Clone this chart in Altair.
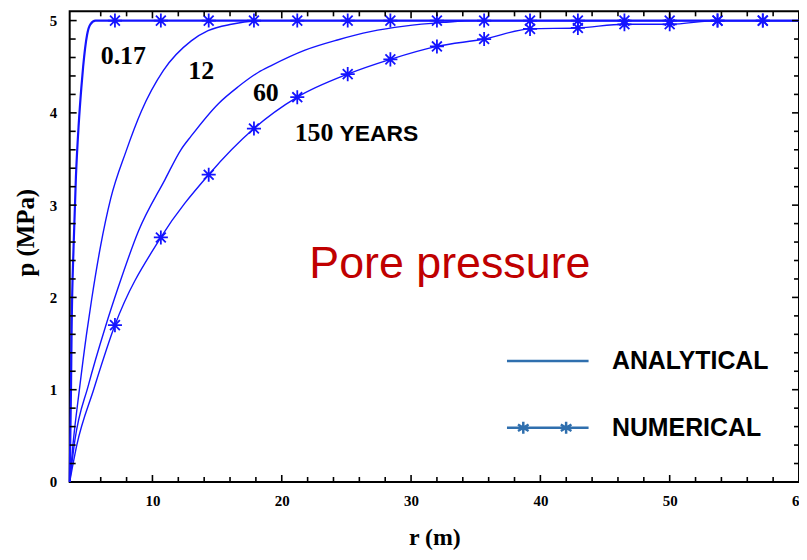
import altair as alt
import pandas as pd

# ---------------- data ----------------
R_DOMAIN = [3.6, 60.0]
P_DOMAIN = [0.0, 5.1]

# analytical curves: r (m) and p (MPa) for each time (years)
A017_R = [3.6, 3.65, 3.7, 3.75, 3.9, 4.08, 4.3, 4.5, 4.64, 4.95, 5.2, 5.6, 60.0]
A017_P = [0.0, 0.5, 1.0, 1.65, 2.55, 3.3, 3.88, 4.27, 4.5, 4.85, 4.96, 5.0, 5.0]

A12_R = [3.6, 3.85, 4.35, 4.9, 5.3, 5.98, 6.77, 7.95, 9.15, 10.85, 13.0, 14.3, 16.1, 18.5, 60.0]
A12_P = [0.0, 0.4, 1.0, 1.6, 1.98, 2.55, 3.07, 3.58, 4.02, 4.46, 4.78, 4.89, 4.96, 5.0, 5.0]

A60_R = [3.6, 4.0, 5.05, 6.36, 7.38, 8.92, 10.98, 12.2, 13.0, 15.1, 16.6, 18.2, 19.15,
         21.8, 24.3, 26.85, 29.5, 32.5, 35.0, 60.0]
A60_P = [0.0, 0.45, 1.05, 1.68, 2.12, 2.72, 3.28, 3.6, 3.75, 4.1, 4.28, 4.44, 4.51,
         4.68, 4.79, 4.88, 4.94, 4.98, 5.0, 5.0]

A150_R = [3.6, 4.15, 5.45, 7.1, 10.65, 14.35, 17.85, 21.2, 25.1, 28.4, 32.0,
          35.65, 39.2, 42.9, 46.5, 50.0, 53.7, 60.0]
A150_P = [0.0, 0.4, 1.0, 1.70, 2.65, 3.33, 3.83, 4.17, 4.42, 4.58, 4.72,
          4.80, 4.91, 4.92, 4.96, 4.96, 5.0, 5.0]

# numerical results (stars)
NUM_R = [7.1, 10.65, 14.35, 17.85, 21.2, 25.1, 28.4, 32.0, 35.65, 39.2, 42.9, 46.5, 50.0, 53.7, 57.2]
N017_P = [5.0, 5.0, 5.0, 5.0, 5.0, 5.0, 5.0, 5.0, 5.0, 5.0, 5.0, 5.0, 5.0, 5.0, 5.0]
N150_P = [1.70, 2.65, 3.33, 3.83, 4.17, 4.42, 4.58, 4.72, 4.80, 4.91, 4.92, 4.96, 4.96, 5.0, 5.0]

# curve labels
LABEL_TEXT = ["0.17", "12", "60", "150"]
LABEL_R = [6.0, 12.77, 17.77, 21.0]
LABEL_P = [4.53, 4.37, 4.13, 3.70]
UNIT_TEXT = ["YEARS"]
UNIT_R = [24.46]
UNIT_P = [3.70]

NOTE_TEXT = ["Pore pressure"]
NOTE_R = [33.0]
NOTE_P = [2.21]

METHODS = ["ANALYTICAL", "NUMERICAL"]

# axis ticks
X_LABELS = [10, 20, 30, 40, 50, 60]
X_MAJOR = [10, 20, 30, 40, 50]
X_MINOR = [6, 8, 12, 14, 16, 18, 22, 24, 26, 28, 32, 34, 36, 38, 42, 44, 46, 48, 52, 54, 56, 58]
Y_LABELS = [0, 1, 2, 3, 4, 5]
Y_MAJOR = [1, 2, 3, 4, 5]
Y_MINOR = [0.2, 0.4, 0.6, 0.8, 1.2, 1.4, 1.6, 1.8, 2.2, 2.4, 2.6, 2.8,
           3.2, 3.4, 3.6, 3.8, 4.2, 4.4, 4.6, 4.8]

# ---------------- styles ----------------
BLUE = "#1414ff"
LEG_BLUE = "#2f6fae"
SERIF = "Liberation Serif"
SANS = "Liberation Sans"
W, H = 733, 473

STAR = "M0,-1L0,1M-1,0L1,0M-0.7,-0.7L0.7,0.7M-0.7,0.7L0.7,-0.7"
LEG_LINE = "M-1,0L1,0"
LEG_STARS = ("M-1,0L1,0"
             "M-0.6,-0.15L-0.6,0.15M-0.73,-0.08L-0.47,0.08M-0.73,0.08L-0.47,-0.08"
             "M0.45,-0.15L0.45,0.15M0.32,-0.08L0.58,0.08M0.32,0.08L0.58,-0.08")

xs = alt.Scale(domain=R_DOMAIN, nice=False, zero=False)
ys = alt.Scale(domain=P_DOMAIN, nice=False, zero=False)

x_axis = alt.Axis(values=X_LABELS, format="d", ticks=False, domain=False, grid=False,
                  labelFont=SERIF, labelFontWeight="bold", labelFontSize=15,
                  labelColor="black", labelPadding=12, labelFlush=False,
                  labelOverlap=False,
                  title="r (m)", titleFont=SERIF, titleFontWeight="bold",
                  titleFontSize=24, titleColor="black", titleY=63,
                  titleBaseline="alphabetic")
y_axis = alt.Axis(values=Y_LABELS, format="d", ticks=False, domain=False, grid=False,
                  labelFont=SERIF, labelFontWeight="bold", labelFontSize=15,
                  labelColor="black", labelPadding=13, labelFlush=False,
                  labelOverlap=False,
                  title="p (MPa)", titleFont=SERIF, titleFontWeight="bold",
                  titleFontSize=25, titleColor="black", titleAngle=270,
                  titleX=-36, titleY=222, titleAlign="center",
                  titleBaseline="alphabetic")


def X(field):
    return alt.X(field, scale=xs, axis=x_axis, title="r (m)")


def Y(field):
    return alt.Y(field, scale=ys, axis=y_axis, title="p (MPa)")


def curve_df(name, r, p):
    return pd.DataFrame({"time": name, "r": r, "p": p})


analytic_thin = pd.concat([curve_df("12", A12_R, A12_P),
                           curve_df("60", A60_R, A60_P),
                           curve_df("150", A150_R, A150_P)])
analytic_thick = curve_df("0.17", A017_R, A017_P)
numerical = pd.concat([curve_df("0.17", NUM_R, N017_P),
                       curve_df("150", NUM_R, N150_P)])

thin = alt.Chart(analytic_thin).mark_line(color=BLUE, strokeWidth=1.4,
                                          interpolate="monotone").encode(
    x=X("r:Q"), y=Y("p:Q"), detail="time:N", order="r:Q",
)
thick = alt.Chart(analytic_thick).mark_line(color=BLUE, strokeWidth=2.2,
                                            interpolate="monotone").encode(
    x=X("r:Q"), y=Y("p:Q"), order="r:Q",
)
stars = alt.Chart(numerical).mark_point(
    shape=STAR, filled=False, size=200, strokeWidth=1.8, color=BLUE, opacity=1
).encode(x=X("r:Q"), y=Y("p:Q"))

labels = alt.Chart(pd.DataFrame({"t": LABEL_TEXT, "r": LABEL_R, "p": LABEL_P})).mark_text(
    font=SERIF, fontWeight="bold", fontSize=26, align="left", baseline="alphabetic", color="black"
).encode(x=X("r:Q"), y=Y("p:Q"), text="t:N")

units = alt.Chart(pd.DataFrame({"t": UNIT_TEXT, "r": UNIT_R, "p": UNIT_P})).mark_text(
    font=SANS, fontWeight="bold", fontSize=23, align="left", baseline="alphabetic", color="black"
).encode(x=X("r:Q"), y=Y("p:Q"), text="t:N")

note = alt.Chart(pd.DataFrame({"t": NOTE_TEXT, "r": NOTE_R, "p": NOTE_P})).mark_text(
    font=SANS, fontSize=45, align="center", baseline="alphabetic", color="#c00000"
).encode(x=X("r:Q"), y=Y("p:Q"), text="t:N")

legend_layer = alt.Chart(pd.DataFrame({"method": METHODS})).mark_point(
    opacity=0, filled=False, color=LEG_BLUE, strokeWidth=2.5
).encode(
    shape=alt.Shape("method:N",
                    scale=alt.Scale(domain=METHODS, range=[LEG_LINE, LEG_STARS]),
                    legend=alt.Legend(title=None, orient="none", legendX=438, legendY=309,
                                      symbolSize=6724, symbolStrokeWidth=2.5,
                                      symbolOpacity=1, symbolStrokeColor=LEG_BLUE,
                                      symbolFillColor="transparent",
                                      labelFont=SANS, labelFontSize=25,
                                      labelFontWeight="bold", labelColor="black",
                                      labelOffset=22, rowPadding=11, labelLimit=400))
)

TICK_COLOR = "black"


def tick_layer(vals, side, length):
    """Inward frame ticks drawn as short rules: side is bottom/top/left/right."""
    df = pd.DataFrame({"v": vals})
    rule = alt.Chart(df).mark_rule(color=TICK_COLOR, strokeWidth=1.6, opacity=1)
    if side == "bottom":
        return rule.encode(x=alt.X("v:Q", scale=xs, title="r (m)"),
                           y=alt.value(H), y2=alt.value(H - length))
    if side == "top":
        return rule.encode(x=alt.X("v:Q", scale=xs, title="r (m)"),
                           y=alt.value(0), y2=alt.value(length))
    if side == "left":
        return rule.encode(y=alt.Y("v:Q", scale=ys, title="p (MPa)"),
                           x=alt.value(0), x2=alt.value(length))
    return rule.encode(y=alt.Y("v:Q", scale=ys, title="p (MPa)"),
                       x=alt.value(W), x2=alt.value(W - length))


ticks = [
    tick_layer(X_MAJOR, "bottom", 7),
    tick_layer(X_MINOR, "bottom", 5),
    tick_layer(X_MAJOR, "top", 7),
    tick_layer(X_MINOR, "top", 5),
    tick_layer(Y_MAJOR, "left", 7),
    tick_layer(Y_MINOR, "left", 6),
    tick_layer(Y_MAJOR, "right", 7),
    tick_layer(Y_MINOR, "right", 5),
]

chart = alt.layer(thin, thick, stars, labels, units, note, legend_layer, *ticks).properties(
    width=W, height=H,
    autosize=alt.AutoSizeParams(type="none"),
    padding={"left": 62, "top": 2, "right": 0, "bottom": 68},
).configure(
    background="white",
    view=alt.ViewConfig(stroke="black", strokeWidth=2),
)

chart.save("out.html", embed_options={"renderer": "svg", "actions": False})
